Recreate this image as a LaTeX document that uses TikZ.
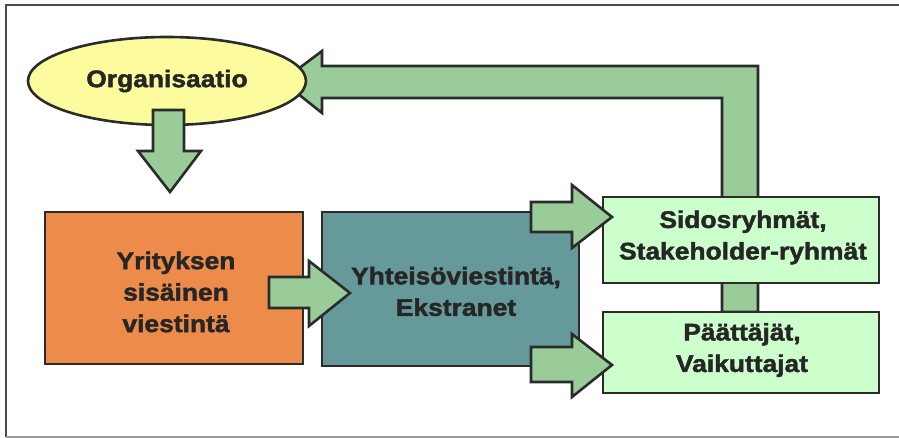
\documentclass[tikz,border=0pt]{standalone}
\usepackage{fontspec}
\newfontfamily\diafont{Liberation Sans}[FakeStretch=1.1,FakeBold=1.8]
\usetikzlibrary{shapes.geometric}
\definecolor{edge}{HTML}{2B2B2B}
\definecolor{txt}{HTML}{262626}
\definecolor{yel}{HTML}{FCFC9E}
\definecolor{orng}{HTML}{EC8B4A}
\definecolor{teal2}{HTML}{669999}
\definecolor{lgreen}{HTML}{CCFFCC}
\definecolor{agreen}{HTML}{99CC99}
\tikzset{
  box/.style={draw=edge, line width=2.6pt, inner sep=0pt, align=center, text=txt,
     font=\diafont\bfseries\fontsize{24}{31.5}\selectfont},
  blockarrow/.style={draw=edge, fill=agreen, line width=2.6pt, line join=miter},
  frameline/.style={draw=#1, line width=2pt}
}
\begin{document}
\begin{tikzpicture}[x=1pt,y=-1pt]
\useasboundingbox (0,0) rectangle (899,438);
% frame
\draw[frameline=edge!85] (899,5) -- (6,5) -- (6,437);
\draw[frameline=gray!80] (6,437) -- (899,437);

% feedback L arrow (behind boxes)
\draw[blockarrow] (282,81) -- (322,51) -- (322,66) -- (758,66) -- (758,312)
   -- (722,312) -- (722,98) -- (322,98) -- (322,113) -- cycle;

% nodes
\node[box, ellipse, fill=yel, minimum width=278pt, minimum height=88pt] (org) at (167,81) {Organisaatio};
\node[box, rectangle, fill=orng, minimum width=258pt, minimum height=152pt] (yri) at (174,288) {};
\node[box, rectangle, fill=teal2, minimum width=257pt, minimum height=154pt] (yht) at (450.5,289) {};
\node[box, rectangle, fill=lgreen, minimum width=276pt, minimum height=86pt] (sid) at (741,240) {};
\node[box, rectangle, fill=lgreen, minimum width=276pt, minimum height=81pt] (paa) at (741,352.5) {};

% texts
\node[box, draw=none] (yriT) at (176,292) {Yrityksen\\sisäinen\\viestintä};
\node[box, draw=none] (yhtT) at (456,291.5) {Yhteisöviestintä,\\Ekstranet};
\node[box, draw=none] (sidT) at (743,237.5) {Sidosryhmät,\\Stakeholder-ryhmät};
\node[box, draw=none] (paaT) at (742,350) {Päättäjät,\\Vaikuttajat};

% down arrow from Organisaatio
\draw[blockarrow] (153,110) -- (184,110) -- (184,151) -- (201,151) -- (170,192)
   -- (138,151) -- (153,151) -- cycle;

% arrow orange -> teal
\draw[blockarrow] (269,277) -- (309,277) -- (309,261) -- (350,293) -- (309,326)
   -- (309,308) -- (269,308) -- cycle;

% arrow teal -> Sidosryhmät
\draw[blockarrow] (531,202) -- (572,202) -- (572,185) -- (612,217) -- (572,248)
   -- (572,232) -- (531,232) -- cycle;

% arrow teal -> Päättäjät
\draw[blockarrow] (531,347) -- (572,347) -- (572,334) -- (612,365) -- (572,397)
   -- (572,382) -- (531,382) -- cycle;
\end{tikzpicture}
\end{document}
